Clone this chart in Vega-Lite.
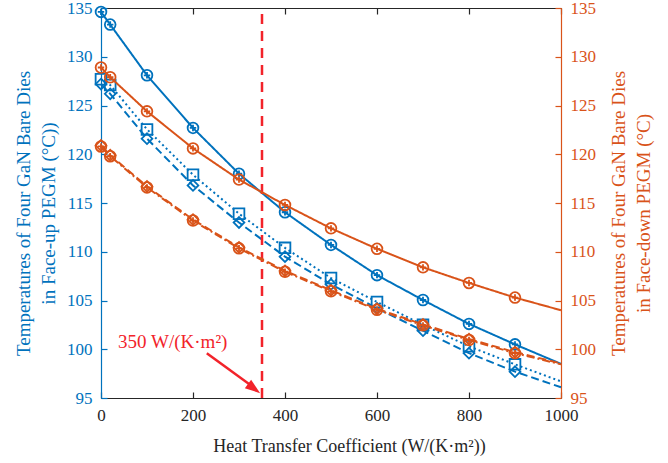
{
  "$schema": "https://vega.github.io/schema/vega-lite/v6.json",
  "autosize": {"type": "none"},
  "width": 460,
  "height": 390,
  "padding": {"left": 101, "top": 8, "right": 107, "bottom": 65},
  "background": "white",
  "datasets": {
    "temps": [
      {"h": 0, "t": 134.6, "s": "up1"}, {"h": 20, "t": 133.3, "s": "up1"}, {"h": 100, "t": 128.1, "s": "up1"}, {"h": 200, "t": 122.7, "s": "up1"}, {"h": 300, "t": 118.0, "s": "up1"}, {"h": 400, "t": 114.05, "s": "up1"}, {"h": 500, "t": 110.7, "s": "up1"}, {"h": 600, "t": 107.6, "s": "up1"}, {"h": 700, "t": 105.05, "s": "up1"}, {"h": 800, "t": 102.6, "s": "up1"}, {"h": 900, "t": 100.5, "s": "up1"}, {"h": 1000, "t": 98.5, "s": "up1"},
      {"h": 0, "t": 127.7, "s": "up2"}, {"h": 20, "t": 127.1, "s": "up2"}, {"h": 100, "t": 122.55, "s": "up2"}, {"h": 200, "t": 117.9, "s": "up2"}, {"h": 300, "t": 113.9, "s": "up2"}, {"h": 400, "t": 110.4, "s": "up2"}, {"h": 500, "t": 107.3, "s": "up2"}, {"h": 600, "t": 104.85, "s": "up2"}, {"h": 700, "t": 102.5, "s": "up2"}, {"h": 800, "t": 100.3, "s": "up2"}, {"h": 900, "t": 98.45, "s": "up2"}, {"h": 1000, "t": 96.7, "s": "up2"},
      {"h": 0, "t": 127.2, "s": "up3"}, {"h": 20, "t": 126.2, "s": "up3"}, {"h": 100, "t": 121.6, "s": "up3"}, {"h": 200, "t": 116.8, "s": "up3"}, {"h": 300, "t": 113.0, "s": "up3"}, {"h": 400, "t": 109.5, "s": "up3"}, {"h": 500, "t": 106.65, "s": "up3"}, {"h": 600, "t": 104.2, "s": "up3"}, {"h": 700, "t": 101.9, "s": "up3"}, {"h": 800, "t": 99.6, "s": "up3"}, {"h": 900, "t": 97.7, "s": "up3"}, {"h": 1000, "t": 96.1, "s": "up3"},
      {"h": 0, "t": 128.9, "s": "down1"}, {"h": 20, "t": 127.9, "s": "down1"}, {"h": 100, "t": 124.4, "s": "down1"}, {"h": 200, "t": 120.6, "s": "down1"}, {"h": 300, "t": 117.4, "s": "down1"}, {"h": 400, "t": 114.8, "s": "down1"}, {"h": 500, "t": 112.4, "s": "down1"}, {"h": 600, "t": 110.3, "s": "down1"}, {"h": 700, "t": 108.4, "s": "down1"}, {"h": 800, "t": 106.8, "s": "down1"}, {"h": 900, "t": 105.3, "s": "down1"}, {"h": 1000, "t": 104.0, "s": "down1"},
      {"h": 0, "t": 120.9, "s": "down2"}, {"h": 20, "t": 119.9, "s": "down2"}, {"h": 100, "t": 116.7, "s": "down2"}, {"h": 200, "t": 113.3, "s": "down2"}, {"h": 300, "t": 110.45, "s": "down2"}, {"h": 400, "t": 108.05, "s": "down2"}, {"h": 500, "t": 106.05, "s": "down2"}, {"h": 600, "t": 104.15, "s": "down2"}, {"h": 700, "t": 102.55, "s": "down2"}, {"h": 800, "t": 101.05, "s": "down2"}, {"h": 900, "t": 99.7, "s": "down2"}, {"h": 1000, "t": 98.55, "s": "down2"},
      {"h": 0, "t": 120.8, "s": "down3"}, {"h": 20, "t": 119.8, "s": "down3"}, {"h": 100, "t": 116.6, "s": "down3"}, {"h": 200, "t": 113.2, "s": "down3"}, {"h": 300, "t": 110.35, "s": "down3"}, {"h": 400, "t": 107.95, "s": "down3"}, {"h": 500, "t": 105.95, "s": "down3"}, {"h": 600, "t": 104.05, "s": "down3"}, {"h": 700, "t": 102.45, "s": "down3"}, {"h": 800, "t": 100.95, "s": "down3"}, {"h": 900, "t": 99.6, "s": "down3"}, {"h": 1000, "t": 98.45, "s": "down3"}
    ]
  },
  "layer": [
    {
      "data": {"name": "temps"},
      "transform": [{"filter": "indexof(['up1','up2','up3'], datum.s) >= 0"}],
      "encoding": {
        "x": {"field": "h", "type": "quantitative", "scale": {"domain": [0, 1000], "nice": false},
          "axis": {"orient": "bottom", "values": [0, 200, 400, 600, 800, 1000], "format": "d", "title": "Heat Transfer Coefficient (W/(K·m²))", "titleX": 248, "tickSize": -6, "labelPadding": 15, "titlePadding": 14, "titleFontSize": 18, "domainColor": "#262626", "tickColor": "#262626", "labelColor": "#262626", "titleColor": "#262626", "labelFlush": false, "labelFont": "Liberation Serif", "titleFont": "Liberation Serif", "labelFontSize": 17}},
        "y": {"field": "t", "type": "quantitative", "scale": {"domain": [95, 135], "nice": false, "zero": false},
          "axis": {"orient": "left", "values": [95, 100, 105, 110, 115, 120, 125, 130, 135], "title": ["Temperatures of Four GaN Bare Dies", "in Face-up PEGM (°C))"], "titleY": 205, "tickSize": -6, "labelPadding": 15, "titlePadding": 8, "titleFontSize": 19, "titleLineHeight": 25, "domainColor": "#0072BD", "tickColor": "#0072BD", "labelColor": "#0072BD", "titleColor": "#0072BD", "labelFlush": false, "labelFont": "Liberation Serif", "titleFont": "Liberation Serif", "labelFontSize": 17}}
      },
      "layer": [
        {"mark": {"type": "line", "strokeWidth": 2},
          "encoding": {
            "color": {"field": "s", "type": "nominal", "scale": {"domain": ["up1", "up2", "up3", "down1", "down2", "down3"], "range": ["#0072BD", "#0072BD", "#0072BD", "#D95319", "#D95319", "#D95319"]}, "legend": null},
            "strokeDash": {"field": "s", "type": "nominal", "scale": {"domain": ["up1", "up2", "up3", "down1", "down2", "down3"], "range": [[1, 0], [2, 3], [8, 4], [1, 0], [8, 4], [8, 3, 2, 3]]}, "legend": null}
          }},
        {"transform": [{"filter": "datum.h < 1000"}],
          "mark": {"type": "point", "filled": false, "strokeWidth": 1.8, "opacity": 1},
          "encoding": {
            "color": {"field": "s", "type": "nominal", "legend": null},
            "shape": {"field": "s", "type": "nominal", "scale": {"domain": ["up1", "up2", "up3", "down1", "down2", "down3"], "range": ["M-1,0A1,1 0 1,1 1,0A1,1 0 1,1 -1,0ZM-0.6,0L0.6,0M0,-0.6L0,0.6", "square", "diamond", "M-1,0A1,1 0 1,1 1,0A1,1 0 1,1 -1,0ZM-0.6,0L0.6,0M0,-0.6L0,0.6", "diamond", "M-1,0A1,1 0 1,1 1,0A1,1 0 1,1 -1,0ZM-0.6,0L0.6,0M0,-0.6L0,0.6"]}, "legend": null},
            "size": {"value": 115}
          }},
        {"data": {"values": [{"h": 350, "t": 95, "t2": 135}]},
          "transform": [],
          "mark": {"type": "rule", "color": "#F2232A", "strokeWidth": 2.5, "strokeDash": [10, 7]},
          "encoding": {"y2": {"field": "t2"}}},
        {"data": {"values": [{"h": 156, "t": 100.7, "label": "350 W/(K·m²)"}]},
          "transform": [],
          "mark": {"type": "text", "color": "#F2232A", "font": "Liberation Serif", "fontSize": 19, "align": "center", "baseline": "middle"},
          "encoding": {"text": {"field": "label"}}},
        {"data": {"values": [{"h": 230, "t": 99.58, "h2": 333, "t2": 96.05}]},
          "transform": [],
          "mark": {"type": "rule", "color": "#F2232A", "strokeWidth": 2.5},
          "encoding": {"x2": {"field": "h2"}, "y2": {"field": "t2"}}},
        {"data": {"values": [{"h": 346, "t": 95.5}]},
          "transform": [],
          "mark": {"type": "point", "filled": true, "color": "#F2232A", "opacity": 1, "shape": "M0,0L-2,-0.7L-2,0.7Z", "size": 230, "angle": 36.5, "strokeWidth": 0},
          "encoding": {}}
      ]
    },
    {
      "data": {"name": "temps"},
      "transform": [{"filter": "indexof(['down1','down2','down3'], datum.s) >= 0"}],
      "encoding": {
        "x": {"field": "h", "type": "quantitative", "scale": {"domain": [0, 1000], "nice": false},
          "axis": {"orient": "top", "values": [0, 200, 400, 600, 800, 1000], "labels": false, "title": null, "tickSize": -6, "domainColor": "#262626", "tickColor": "#262626"}},
        "y": {"field": "t", "type": "quantitative", "scale": {"domain": [95, 135], "nice": false, "zero": false},
          "axis": {"orient": "right", "values": [95, 100, 105, 110, 115, 120, 125, 130, 135], "title": ["Temperatures of Four GaN Bare Dies", "in Face-down PEGM (°C)"], "titleAngle": 270, "titleY": 205, "tickSize": -6, "labelPadding": 15, "titlePadding": 8, "titleFontSize": 19, "titleLineHeight": 25, "domainColor": "#D95319", "tickColor": "#D95319", "labelColor": "#D95319", "titleColor": "#D95319", "labelFlush": false, "labelFont": "Liberation Serif", "titleFont": "Liberation Serif", "labelFontSize": 17}}
      },
      "layer": [
        {"mark": {"type": "line", "strokeWidth": 2},
          "encoding": {
            "color": {"field": "s", "type": "nominal", "legend": null},
            "strokeDash": {"field": "s", "type": "nominal", "legend": null}
          }},
        {"transform": [{"filter": "datum.h < 1000"}],
          "mark": {"type": "point", "filled": false, "strokeWidth": 1.8, "opacity": 1},
          "encoding": {
            "color": {"field": "s", "type": "nominal", "legend": null},
            "shape": {"field": "s", "type": "nominal", "legend": null},
            "size": {"value": 115}
          }}
      ]
    }
  ],
  "resolve": {"scale": {"y": "independent"}, "axis": {"x": "independent", "y": "independent"}},
  "config": {
    "view": {"stroke": null},
    "text": {"font": "Liberation Serif"},
    "axis": {"labelFont": "Liberation Serif", "titleFont": "Liberation Serif", "labelFontSize": 17, "titleFontSize": 18, "titleFontWeight": "normal", "grid": false, "domainWidth": 1.2, "tickWidth": 1.2}
  }
}
